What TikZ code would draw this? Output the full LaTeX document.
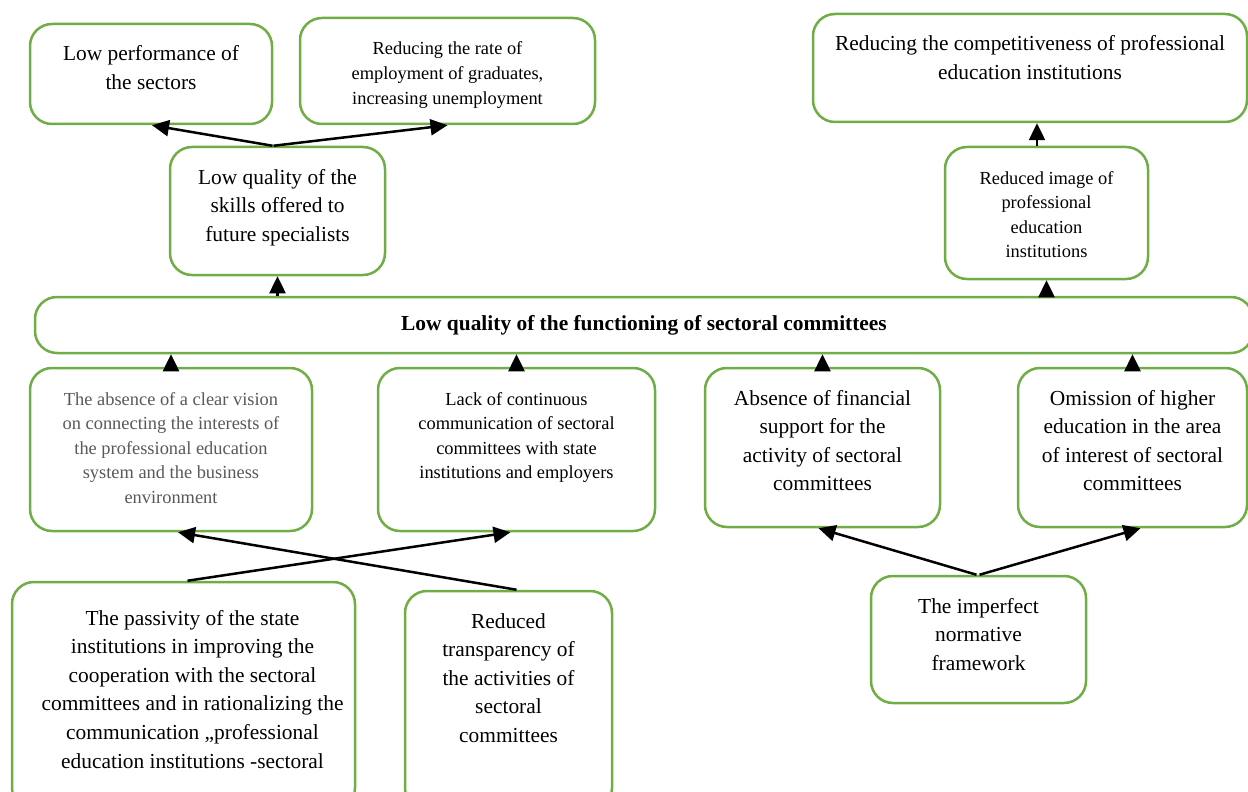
\documentclass[tikz,border=0pt]{standalone}
\usepackage{fontspec}
\setmainfont{Liberation Serif}
\usepackage{xcolor}
\usetikzlibrary{arrows.meta}
\definecolor{boxgreen}{HTML}{70AD47}
\definecolor{visiongray}{HTML}{595959}
\newcommand{\normtext}{\fontsize{10.7pt}{14.3pt}\selectfont}
\newcommand{\smalltext}{\fontsize{9.2pt}{12.25pt}\selectfont}
\newcommand{\boxtext}[3]{\parbox[c][#2][t]{#1}{\centering\rule{0pt}{18.5pt}#3}}

\begin{document}
\begin{tikzpicture}[x=0.5pt, y=-0.5pt,
    cbox/.style={draw=boxgreen, line width=1.25pt, rounded corners=11pt, fill=white, inner sep=0pt},
    arr/.style={-{Triangle[length=8.5pt,width=8pt]}, line width=1.25pt}]
    \useasboundingbox (0,0) rectangle (1248,792);
    \clip (0,0) rectangle (1248,792);

    %Nodes
    \node[cbox] at (151,74) (perf) {\boxtext{121pt}{50pt}{\normtext Low performance of\\the sectors}};
    \node[cbox] at (447.5,71) (rate) {\boxtext{147.5pt}{53pt}{\smalltext Reducing the rate of\\employment of graduates,\\increasing unemployment}};
    \node[cbox] at (277.5,211) (qual) {\boxtext{107.5pt}{64pt}{\normtext Low quality of the\\skills offered to\\future specialists}};
    \node[cbox] at (1030,68) (comp) {\boxtext{217pt}{54pt}{\normtext Reducing the competitiveness of professional\\education institutions}};
    \node[cbox] at (1046.5,213) (image) {\boxtext{101.5pt}{66pt}{\smalltext Reduced image of\\professional\\education\\institutions}};

    \node[cbox, minimum width=609pt, minimum height=28pt, font=\normtext\bfseries] at (644,325) (main) {Low quality of the functioning of sectoral committees};

    \node[cbox] at (171,449.5) (vision) {\boxtext{141pt}{81.5pt}{\smalltext\color{visiongray}The absence of a clear vision\\on connecting the interests of\\the professional education\\system and the business\\environment}};
    \node[cbox] at (516.5,449.5) (lack) {\boxtext{138.5pt}{81.5pt}{\smalltext Lack of continuous\\communication of sectoral\\committees with state\\institutions and employers}};
    \node[cbox] at (822.5,447.5) (finance) {\boxtext{117.5pt}{79.5pt}{\normtext Absence of financial\\support for the\\activity of sectoral\\committees}};
    \node[cbox] at (1132.5,447.5) (omission) {\boxtext{114.5pt}{79.5pt}{\normtext Omission of higher\\education in the area\\of interest of sectoral\\committees}};

    \node[cbox] at (183.5,696) (passive) {\boxtext{171.5pt}{114pt}{\normtext\rule{0pt}{21.5pt}\hspace*{9pt}The passivity of the state\\\hspace*{9pt}institutions in improving the\\\hspace*{9pt}cooperation with the sectoral\\\hspace*{9pt}committees and in rationalizing the\\\hspace*{9pt}communication „professional\\\hspace*{9pt}education institutions -sectoral}};
    \node[cbox] at (508.5,700.5) (transp) {\boxtext{103.5pt}{109.5pt}{\normtext Reduced\\transparency of\\the activities of\\sectoral\\committees}};
    \node[cbox] at (978.5,639.5) (norm) {\boxtext{107.5pt}{63.5pt}{\normtext The imperfect\\normative\\framework}};

    %Lines
    \draw[arr] ([xshift=-2.5pt]qual.north) -- ([xshift=0.5pt]perf.south);
    \draw[arr] ([xshift=-2pt]qual.north) -- (rate.south);
    \draw[arr] (main.north -| qual) -- (qual.south);
    \draw[arr] (main.north -| image) -- (image.south);
    \draw[arr] ([xshift=-4.75pt]image.north) -- ([xshift=-4.75pt]image.north |- comp.south);
    \draw[arr] (vision.north) -- (vision.north |- main.south);
    \draw[arr] (lack.north) -- (lack.north |- main.south);
    \draw[arr] (finance.north) -- (finance.north |- main.south);
    \draw[arr] (omission.north) -- (omission.north |- main.south);
    \draw[arr] ([xshift=2pt]passive.north) -- ([xshift=-3pt]lack.south);
    \draw[arr] ([xshift=4pt]transp.north) -- ([xshift=3.5pt]vision.south);
    \draw[arr] ([xshift=-1pt]norm.north) -- ([xshift=-2pt]finance.south);
    \draw[arr] ([xshift=0.5pt]norm.north) -- ([xshift=4pt]omission.south);
\end{tikzpicture}
\end{document}
